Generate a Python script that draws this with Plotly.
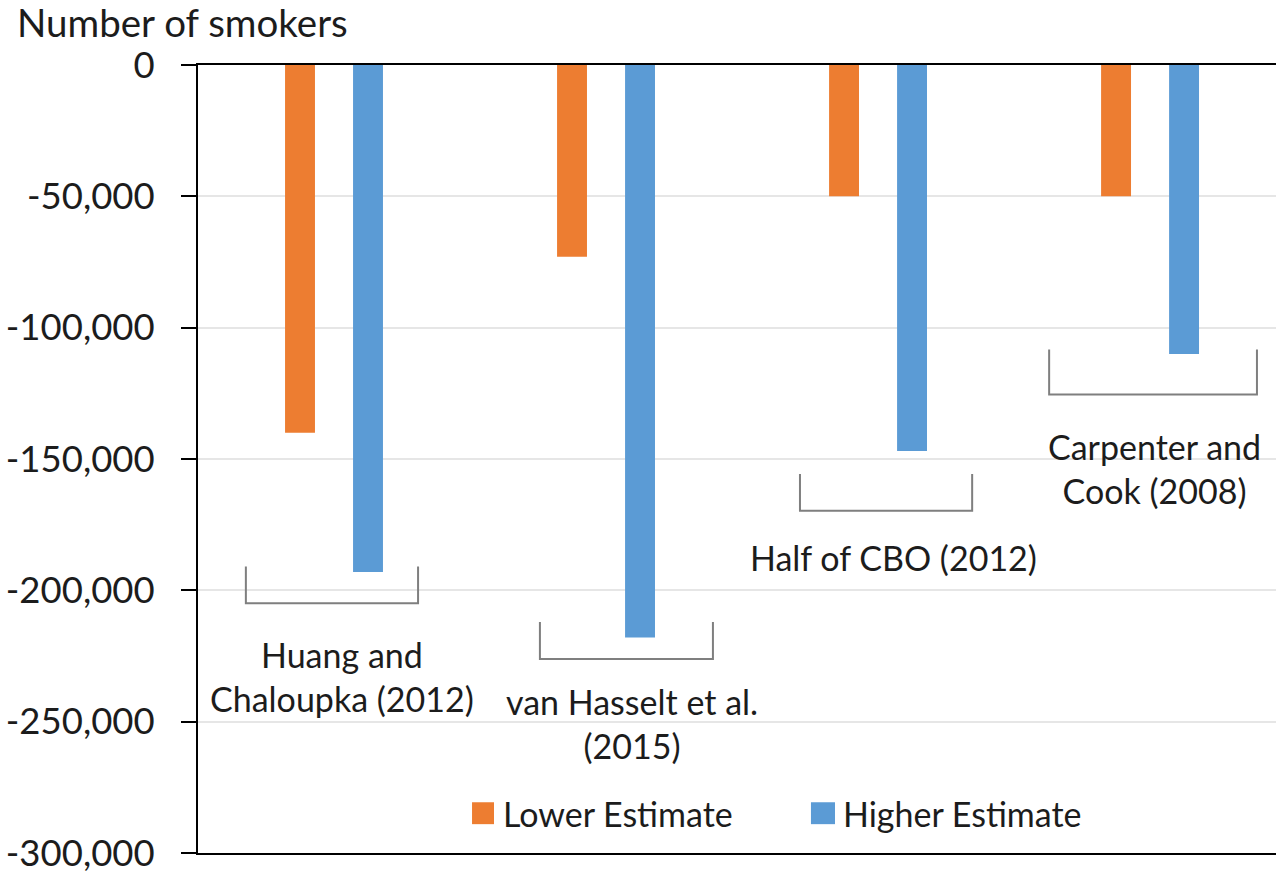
import plotly.graph_objects as go

# Studies and their estimated change in the number of smokers
studies = ["Huang and<br>Chaloupka (2012)", "van Hasselt et al.<br>(2015)",
           "Half of CBO (2012)", "Carpenter and<br>Cook (2008)"]
lower_estimate = [-140000, -73000, -50000, -50000]
higher_estimate = [-193000, -218000, -147000, -110000]

series_names = ["Lower Estimate", "Higher Estimate"]
y_ticks = [0, -50000, -100000, -150000, -200000, -250000, -300000]
y_tick_text = ["0", "-50,000", "-100,000", "-150,000", "-200,000", "-250,000", "-300,000"]

ORANGE = "#ED7D31"
BLUE = "#5B9BD5"
TEXT = "#1c1c1c"
FONT = "Lato"

x_pos = list(range(len(studies)))

fig = go.Figure()
fig.add_trace(go.Bar(x=x_pos, y=lower_estimate, name=series_names[0],
                     marker=dict(color=ORANGE, line=dict(width=0)), showlegend=False))
fig.add_trace(go.Bar(x=x_pos, y=higher_estimate, name=series_names[1],
                     marker=dict(color=BLUE, line=dict(width=0)), showlegend=False))

# Study labels with a bracket above each one:
# (label x, label y, bracket x0, bracket x1, bracket top y, bracket bottom y)
label_layout = [
    (0.03, -232900, -0.324, 0.309, -190900, -204900),
    (1.096, -250700, 0.757, 1.393, -212100, -226100),
    (2.055, -187500, 1.713, 2.346, -155700, -169700),
    (3.015, -153800, 2.629, 3.393, -108300, -125400),
]
for text, (lx, ly, bx0, bx1, btop, bbot) in zip(studies, label_layout):
    fig.add_annotation(x=lx, y=ly, xref="x", yref="y", text=text, showarrow=False,
                       font=dict(family=FONT, size=34, color=TEXT), align="center")
    fig.add_shape(type="path", xref="x", yref="y",
                  path=f"M {bx0} {btop} L {bx0} {bbot} L {bx1} {bbot} L {bx1} {btop}",
                  line=dict(color="#7f7f7f", width=2))

# Legend drawn as coloured squares with text beside them
legend_items = [(series_names[0], ORANGE, 0.2542, 0.2746, 0.2810),
                (series_names[1], BLUE, 0.5686, 0.5909, 0.5965)]
for name, color, sx0, sx1, tx in legend_items:
    fig.add_shape(type="rect", xref="paper", yref="paper", x0=sx0, x1=sx1,
                  y0=0.0366, y1=0.0644, fillcolor=color, line=dict(width=0))
    fig.add_annotation(x=tx, y=0.0505, xref="paper", yref="paper", text=name,
                       showarrow=False, xanchor="left", yanchor="middle",
                       font=dict(family=FONT, size=34, color=TEXT))

# Axis title placed horizontally above the value axis
fig.add_annotation(x=-0.1693, y=1.054, xref="paper", yref="paper", text="Number of smokers",
                   showarrow=False, xanchor="left", yanchor="middle",
                   font=dict(family=FONT, size=38.5, color=TEXT))

fig.update_layout(
    width=1276, height=874,
    margin=dict(l=198, r=0, t=65, b=13),
    paper_bgcolor="white", plot_bgcolor="white",
    barmode="group", bargap=0.5, bargroupgap=0.56,
    font=dict(family=FONT, color=TEXT),
    showlegend=False,
)
fig.update_xaxes(range=[-0.5, 3.463], showticklabels=False, ticks="",
                 showgrid=False, zeroline=False,
                 showline=True, mirror=True, linecolor="black", linewidth=2)
fig.update_yaxes(range=[-300000, 0], tickvals=y_ticks, ticktext=y_tick_text,
                 tickfont=dict(family=FONT, size=36.5, color=TEXT),
                 ticks="outside", ticklen=15, tickwidth=2, tickcolor="black",
                 ticklabelstandoff=19, ticklabeloverflow="allow",
                 showgrid=True, gridcolor="#e6e6e6", gridwidth=1.5,
                 zeroline=False, showline=True, linecolor="black", linewidth=2)

fig.write_html("out.html")
